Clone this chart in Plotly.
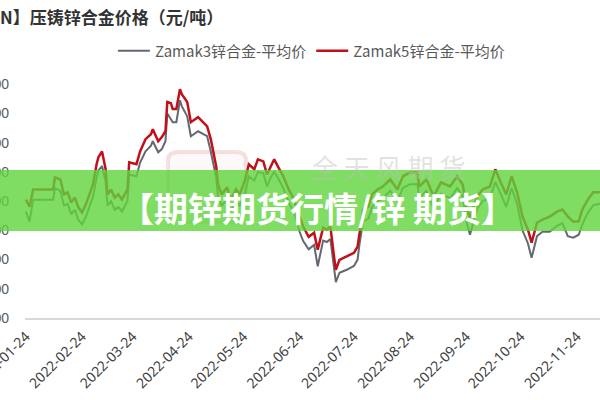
import plotly.graph_objects as go

# ---- data ----
dates = [
    "2022-01-24", "2022-01-26", "2022-01-28", "2022-02-08", "2022-02-09", "2022-02-12", "2022-02-14",
    "2022-02-16", "2022-02-18", "2022-02-20", "2022-02-22", "2022-02-24", "2022-02-26", "2022-02-28",
    "2022-03-02", "2022-03-04", "2022-03-05", "2022-03-07", "2022-03-09", "2022-03-10", "2022-03-12",
    "2022-03-14", "2022-03-16", "2022-03-18", "2022-03-21", "2022-03-22", "2022-03-26", "2022-03-28",
    "2022-03-31", "2022-04-03", "2022-04-04", "2022-04-07", "2022-04-09", "2022-04-11", "2022-04-12",
    "2022-04-14", "2022-04-15", "2022-04-17", "2022-04-19", "2022-04-20", "2022-04-23", "2022-04-25",
    "2022-04-29", "2022-05-04", "2022-05-06", "2022-05-09", "2022-05-10", "2022-05-12", "2022-05-15",
    "2022-05-17", "2022-05-20", "2022-05-22", "2022-05-25", "2022-05-27", "2022-05-30", "2022-06-01",
    "2022-06-04", "2022-06-06", "2022-06-08", "2022-06-10", "2022-06-12", "2022-06-15", "2022-06-18",
    "2022-06-21", "2022-06-24", "2022-06-26", "2022-06-29", "2022-07-02", "2022-07-04", "2022-07-07",
    "2022-07-09", "2022-07-11", "2022-07-13", "2022-07-14", "2022-07-16", "2022-07-20", "2022-07-24",
    "2022-07-26", "2022-07-27", "2022-07-29", "2022-08-01", "2022-08-03", "2022-08-06", "2022-08-09",
    "2022-08-13", "2022-08-17", "2022-08-20", "2022-08-24", "2022-08-28", "2022-08-29", "2022-09-02",
    "2022-09-06", "2022-09-10", "2022-09-15", "2022-09-19", "2022-09-22", "2022-09-24", "2022-09-26",
    "2022-09-30", "2022-10-03", "2022-10-07", "2022-10-10", "2022-10-13", "2022-10-16", "2022-10-19",
    "2022-10-22", "2022-10-25", "2022-10-28", "2022-10-30", "2022-11-02", "2022-11-05", "2022-11-09",
    "2022-11-13", "2022-11-16", "2022-11-19", "2022-11-22", "2022-11-25", "2022-11-27", "2022-11-30",
    "2022-12-03", "2022-12-06", "2022-12-10",
]

zamak5 = [
    26050, 25810, 26400, 26400, 26810, 26740, 26230,
    26300, 25950, 26120, 25780, 25610, 25880, 26230,
    26570, 27260, 27500, 27700, 27090, 26230, 26400,
    26120, 26230, 26050, 26400, 27330, 27260, 27700,
    28120, 28290, 28460, 28050, 28190, 28390, 29390,
    29350, 29150, 29150, 29830, 29660, 29390, 28700,
    28870, 28560, 28120, 27190, 26570, 26230, 26470,
    26050, 26400, 26230, 26740, 27260, 27090, 27430,
    27360, 26910, 27190, 27430, 27190, 26850, 26400,
    26050, 25470, 25130, 24780, 24920, 24340, 25090,
    25020, 25130, 24100, 23650, 23990, 24100, 24230,
    24440, 24920, 25710, 25810, 26230, 26400, 26500,
    26740, 26400, 26850, 26980, 26980, 26500, 26740,
    26160, 26640, 26500, 26850, 26570, 25810, 25440,
    26160, 26400, 26500, 27090, 26640, 26230, 26850,
    26300, 25470, 25020, 24580, 25260, 25370, 25470,
    25640, 25710, 25470, 25300, 25300, 25710, 26050,
    26300, 26300, 26350,
]

zamak3 = [
    25640, 25300, 26050, 26050, 26450, 26350, 25850,
    25900, 25550, 25700, 25350, 25200, 25450, 25800,
    26150, 26800, 27050, 27200, 26650, 25850, 26000,
    25700, 25800, 25650, 26000, 26900, 26850, 27320,
    27700, 27900, 28050, 27670, 27780, 28050, 29000,
    28800, 28700, 28700, 29450, 29250, 28900, 28220,
    28390, 28220, 27700, 26800, 26150, 25850, 26050,
    25650, 26000, 25850, 26300, 26850, 26700, 27000,
    26950, 26500, 26800, 27000, 26800, 26450, 25950,
    25600, 24950, 24630, 24350, 24500, 23770, 24650,
    24600, 24700, 23700, 23230, 23550, 23650, 23780,
    24000, 24500, 25300, 25400, 25800, 26000, 26100,
    26350, 26000, 26450, 26580, 26580, 26100, 26350,
    25750, 26250, 26100, 26450, 26150, 25300, 24850,
    25750, 26000, 26100, 26650, 26250, 25800, 26450,
    25900, 25000, 24550, 24060, 24800, 24950, 24950,
    25150, 25250, 24800, 24750, 24850, 25200, 25600,
    25850, 25900, 25950,
]

series_names = ["Zamak3锌合金-平均价", "Zamak5锌合金-平均价"]
tick_dates = ["2022-01-24", "2022-02-24", "2022-03-24", "2022-04-24", "2022-05-24", "2022-06-24",
              "2022-07-24", "2022-08-24", "2022-09-24", "2022-10-24", "2022-11-24", "2022-12-24"]
y_ticks = [22000, 23000, 24000, 25000, 26000, 27000, 28000, 29000, 30000]

title_text = "N】压铸锌合金价格（元/吨）"
banner_text = "【期锌期货行情/锌 期货】"
watermark_text = "全 天 风 期 货"

# ---- figure ----
fig = go.Figure()
fig.add_trace(go.Scatter(x=dates, y=zamak3, mode="lines", name=series_names[0],
                         line=dict(color="#646870", width=2)))
fig.add_trace(go.Scatter(x=dates, y=zamak5, mode="lines", name=series_names[1],
                         line=dict(color="#c0101a", width=2.5)))

L, T, B = 25, 55, 82
W, H = 600, 400
pw, ph = W - L, H - T - B

def px_x(p):
    return (p - L) / pw

def px_y(p):
    return (H - B - p) / ph

fig.update_layout(
    width=W, height=H,
    margin=dict(l=L, r=0, t=T, b=B, autoexpand=False),
    paper_bgcolor="white", plot_bgcolor="white",
    font=dict(family="Noto Sans CJK SC, Noto Sans, sans-serif", color="#595959"),
    title=dict(text="<b>" + title_text + "</b>", x=0, xref="container", xanchor="left",
               y=1 - 18 / H, yref="container", yanchor="middle",
               font=dict(size=17, color="#333333", family="Noto Sans CJK SC")),
    legend=dict(orientation="h", x=0.519, xref="container", xanchor="center",
                y=1 - 51 / H, yref="container", yanchor="middle",
                font=dict(size=15, color="#595959", family="Noto Sans CJK SC"),
                itemwidth=32, bgcolor="rgba(0,0,0,0)"),
    showlegend=True,
    hovermode=False,
)

fig.update_xaxes(
    type="date", range=["2022-01-23 12:00", "2022-12-06 18:00"],
    tickmode="array", tickvals=tick_dates, ticktext=tick_dates,
    tickangle=-45, showgrid=False, zeroline=False,
    showline=True, linecolor="#d9d9d9", linewidth=1.5,
    ticks="", ticklabeloverflow="allow", ticklabelstandoff=3,
    tickfont=dict(size=14, color="#404040", family="Noto Sans"),
)
fig.update_yaxes(
    range=[22000, 31000], tickmode="array", tickvals=y_ticks, tickformat="d",
    showgrid=False, zeroline=False, showline=False, ticks="",
    ticklabelstandoff=15,
    tickfont=dict(size=14, color="#595959", family="Liberation Sans"),
)

# faint watermark (logo + text)
fig.add_shape(type="path", xref="paper", yref="paper",
              path=("M {a},{b} L {c},{b} Q {d},{b} {d},{e} L {d},{f} Q {d},{g} {c},{g} "
                    "L {a},{g} Q {h},{g} {h},{f} L {h},{e} Q {h},{b} {a},{b} Z").format(
                  a=px_x(178), c=px_x(236), d=px_x(246), h=px_x(168),
                  b=px_y(152), e=px_y(160), f=px_y(214), g=px_y(222)),
              line=dict(color="rgba(228,170,170,0.35)", width=4),
              fillcolor="rgba(240,205,205,0.12)", layer="below")
fig.add_annotation(text=watermark_text, xref="paper", yref="paper",
                   x=px_x(388), y=px_y(166), showarrow=False,
                   font=dict(size=26, color="rgba(190,190,190,0.45)", family="Noto Sans CJK SC"))

# green banner overlay
fig.add_shape(type="rect", xref="paper", yref="paper",
              x0=-0.1, x1=1.1, y0=px_y(231), y1=px_y(170),
              line=dict(width=0), fillcolor="rgba(95,212,60,0.8)", layer="above")
fig.add_annotation(text="<b>" + banner_text + "</b>", xref="paper", yref="paper",
                   x=px_x(317), y=px_y(207), showarrow=False,
                   font=dict(size=34, color="white", family="Noto Sans CJK SC"))

fig.write_html("out.html")
